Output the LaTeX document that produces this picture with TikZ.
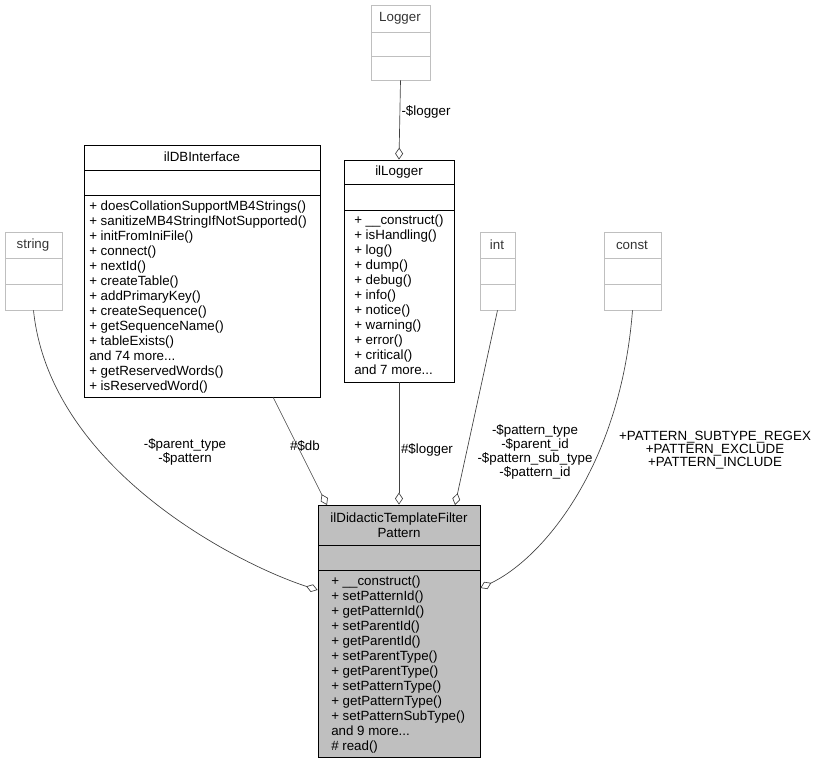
\documentclass[tikz,border=0pt]{standalone}
\usepackage{fontspec}
\setmainfont{Liberation Sans}
\usetikzlibrary{arrows.meta,fit}
\definecolor{boxgray}{HTML}{BFBFBF}
\definecolor{edgegray}{HTML}{404040}
\tikzset{
    cls/.style={draw, rectangle, inner sep=0pt, line width=0.6pt},
    ext/.style={draw=boxgray, rectangle, inner sep=0pt, line width=0.6pt},
    title/.style={font=\fontsize{10}{11.2}\selectfont, align=center, inner sep=0pt},
    members/.style={font=\fontsize{10}{11.2}\selectfont, align=left, anchor=north west, inner sep=0pt},
    lbl/.style={font=\fontsize{10}{8.6}\selectfont, align=center, inner sep=0pt},
    uses/.style={draw=edgegray, line width=0.5pt, -{Diamond[open,length=9pt,width=6pt]}}
}
\begin{document}
\begin{tikzpicture}[x=0.75pt, y=-0.75pt]
    \useasboundingbox (0,0) rectangle (819,764);

    % external classes
    \node[ext, fit={(371,5) (430,80)}] (logger) {};
    \node[title, text=black!80] at (400,18) {Logger};
    \draw[boxgray, line width=0.6pt] (371,32) -- (430,32) (371,56) -- (430,56);

    \node[ext, fit={(5,232) (62,310)}] (string) {};
    \node[title, text=black!80] at (33,245) {string};
    \draw[boxgray, line width=0.6pt] (5,258) -- (62,258) (5,284) -- (62,284);

    \node[ext, fit={(480,232) (515,310)}] (int) {};
    \node[title, text=black!80] at (497,245) {int};
    \draw[boxgray, line width=0.6pt] (480,258) -- (515,258) (480,284) -- (515,284);

    \node[ext, fit={(604,232) (661,310)}] (const) {};
    \node[title, text=black!80] at (632,245) {const};
    \draw[boxgray, line width=0.6pt] (604,258) -- (661,258) (604,284) -- (661,284);

    % ilDBInterface
    \node[cls, fit={(84,145) (320,397)}] (db) {};
    \node[title] at (202,157) {ilDBInterface};
    \draw[line width=0.6pt] (84,170) -- (320,170) (84,195) -- (320,195);
    \node[members] at (89,201) {+ doesCollationSupportMB4Strings()\\+ sanitizeMB4StringIfNotSupported()\\+ initFromIniFile()\\+ connect()\\+ nextId()\\+ createTable()\\+ addPrimaryKey()\\+ createSequence()\\+ getSequenceName()\\+ tableExists()\\and 74 more...\\+ getReservedWords()\\+ isReservedWord()};

    % ilLogger
    \node[cls, fit={(344,160) (454,382)}] (illogger) {};
    \node[title] at (399,172) {ilLogger};
    \draw[line width=0.6pt] (344,184) -- (454,184) (344,210) -- (454,210);
    \node[members] at (354,215) {+ \_\_construct()\\+ isHandling()\\+ log()\\+ dump()\\+ debug()\\+ info()\\+ notice()\\+ warning()\\+ error()\\+ critical()\\and 7 more...};

    % main class
    \node[cls, fill=boxgray, fit={(318,505) (480,757)}] (pattern) {};
    \node[title] at (399,525) {ilDidacticTemplateFilter\\Pattern};
    \draw[line width=0.6pt] (318,545) -- (480,545) (318,570) -- (480,570);
    \node[members] at (331,576) {+ \_\_construct()\\+ setPatternId()\\+ getPatternId()\\+ setParentId()\\+ getParentId()\\+ setParentType()\\+ getParentType()\\+ setPatternType()\\+ getPatternType()\\+ setPatternSubType()\\and 9 more...\\\# read()};

    % connectors
    \draw[uses] (logger.south) -- (illogger.north);
    \node[lbl] at (426,112) {-\$logger};

    \draw[uses] (string.south) .. controls (50,470) and (240,565) .. (pattern.west |- 0,590);
    \node[lbl] at (185,452) {-\$parent\_type\\-\$pattern};

    \draw[uses] (273,397) -- (327,505);
    \node[lbl] at (305,446) {\#\$db};

    \draw[uses] (illogger.south) -- (pattern.north -| illogger.south);
    \node[lbl] at (427,450) {\#\$logger};

    \draw[uses] (int.south) -- (455,505);
    \node[lbl] at (535,452) {-\$pattern\_type\\-\$parent\_id\\-\$pattern\_sub\_type\\-\$pattern\_id};

    \draw[uses] (const.south) .. controls (620,470) and (540,560) .. (pattern.east |- 0,588);
    \node[lbl] at (715,450) {+PATTERN\_SUBTYPE\_REGEX\\+PATTERN\_EXCLUDE\\+PATTERN\_INCLUDE};
\end{tikzpicture}
\end{document}
